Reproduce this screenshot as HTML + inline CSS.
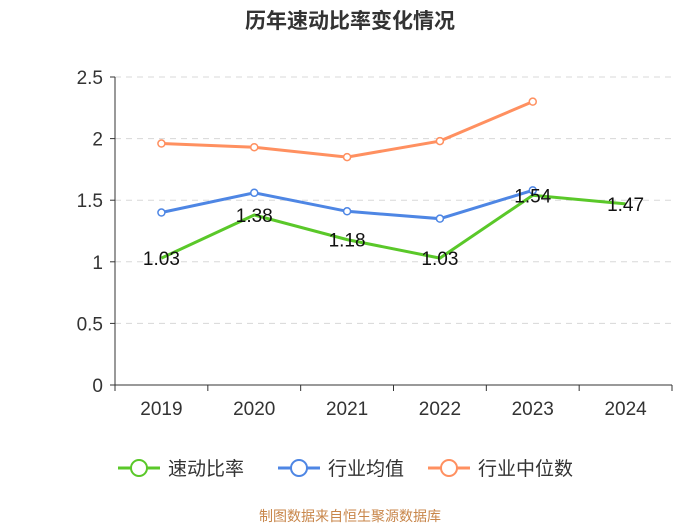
<!DOCTYPE html>
<html><head><meta charset="utf-8"><style>
body{margin:0;background:#fff;}
svg{display:block;font-family:"Liberation Sans","Noto Sans CJK SC",sans-serif;}
</style></head><body>
<svg id="chart" width="700" height="525">
<text x="350" y="28" text-anchor="middle" font-size="21" font-weight="bold" fill="#333">历年速动比率变化情况</text>
<g id="grid"></g><g id="axes"></g><g id="series"></g><g id="labels"></g>
<g id="legend"></g>
<text x="350" y="521" text-anchor="middle" font-size="14" fill="#c8864a">制图数据来自恒生聚源数据库</text>
</svg>
<script>
const categories=["2019","2020","2021","2022","2023","2024"];
const quickRatio=[1.03,1.38,1.18,1.03,1.54,1.47];
const industryAvg=[1.40,1.56,1.41,1.35,1.58,null];
const industryMedian=[1.96,1.93,1.85,1.98,2.30,null];
const yTicks=[0,0.5,1,1.5,2,2.5];
const seriesNames=["速动比率","行业均值","行业中位数"];
const colors=["#5ac829","#4e86e4","#ff9060"];
const NS="http://www.w3.org/2000/svg";
const x0=115,x1=672,yB=385,yT=77,yMax=2.5;
const bw=(x1-x0)/categories.length;
const X=i=>x0+bw*(i+0.5);
const Y=v=>yB-(v/yMax)*(yB-yT);
function mk(tag,attrs,parent){const e=document.createElementNS(NS,tag);for(const k in attrs)e.setAttribute(k,attrs[k]);document.getElementById(parent)?document.getElementById(parent).appendChild(e):parent.appendChild(e);return e;}
yTicks.forEach(t=>{
  if(t>0){const g=mk('line',{x1:x0,x2:x1,y1:Y(t),y2:Y(t),stroke:'#d8d8d8','stroke-dasharray':'6,5'},'grid');
  
  }
  const l=mk('text',{x:x0-12,y:Y(t)+7,'text-anchor':'end','font-size':19,fill:'#333'},'axes');l.textContent=t;
  
  
  mk('line',{x1:x0-5,x2:x0,y1:Y(t),y2:Y(t),stroke:'#333'},'axes');
});
mk('line',{x1:x0,x2:x0,y1:yT,y2:yB,stroke:'#333'},'axes');
mk('line',{x1:x0,x2:x1,y1:yB,y2:yB,stroke:'#333'},'axes');
categories.forEach((c,i)=>{
  mk('line',{x1:x0+bw*i,x2:x0+bw*i,y1:yB,y2:yB+6,stroke:'#333'},'axes');
  const t=mk('text',{x:X(i),y:yB+30,'text-anchor':'middle','font-size':19,fill:'#333'},'axes');t.textContent=c;
  
  
});
mk('line',{x1:x1,x2:x1,y1:yB,y2:yB+6,stroke:'#333'},'axes');
function drawSeries(vals,color,name,markers){
  const pts=vals.map((v,i)=>v==null?null:[X(i),Y(v)]).filter(p=>p);
  const p=mk('polyline',{points:pts.map(p=>p.join(',')).join(' '),fill:'none',stroke:color,'stroke-width':3},'series');
  
  
  if(markers)pts.forEach(q=>{const c=mk('circle',{cx:q[0],cy:q[1],r:3.5,fill:'#fff',stroke:color,'stroke-width':1.5},'series');
    
    });
}
drawSeries(industryMedian,colors[2],'industry-median',true);
drawSeries(industryAvg,colors[1],'industry-average',true);
drawSeries(quickRatio,colors[0],'quick-ratio',false);
quickRatio.forEach((v,i)=>{const t=mk('text',{x:X(i),y:Y(v)+7,'text-anchor':'middle','font-size':19,fill:'#111'},'labels');t.textContent=v.toFixed(2);
  
  });
const lx=[118,278,428];
seriesNames.forEach((n,i)=>{
  const g=mk('g',{},'legend');
  
  
  mk('line',{x1:lx[i],x2:lx[i]+42,y1:468,y2:468,stroke:colors[i],'stroke-width':3},g);
  mk('circle',{cx:lx[i]+21,cy:468,r:8,fill:'#fff',stroke:colors[i],'stroke-width':2},g);
  const t=mk('text',{x:lx[i]+50,y:475,'font-size':19,fill:'#333'},g);t.textContent=n;
});
</script>
</body></html>
